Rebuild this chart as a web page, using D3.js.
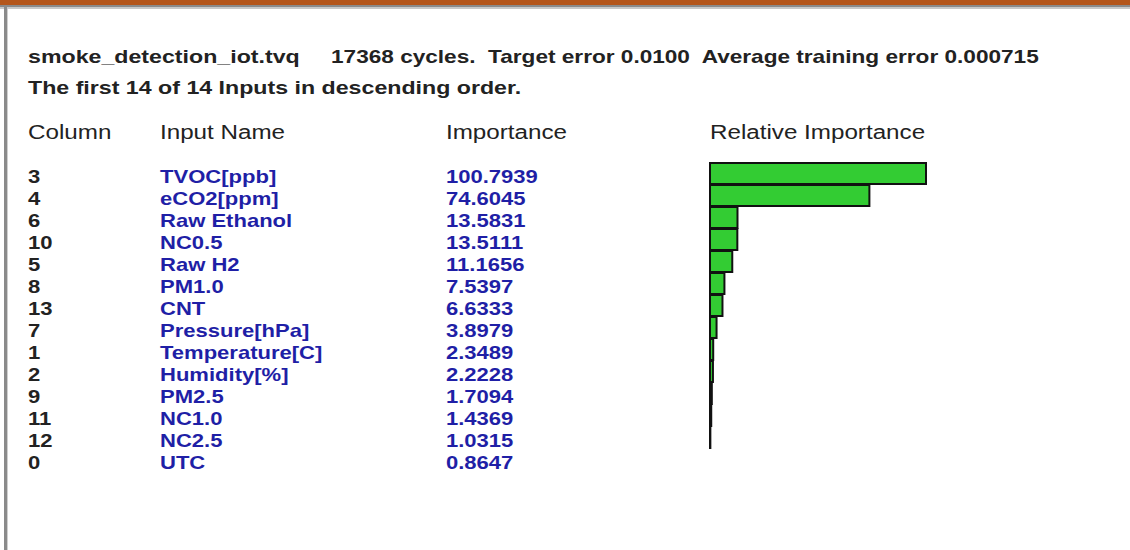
<!DOCTYPE html>
<html lang="en">
<head>
  <meta charset="UTF-8">
  <title>Input Importance</title>
  <script src="https://d3js.org/d3.v7.min.js"></script>
  <style>
    body {
      margin: 0;
      padding: 0;
      background: #fff;
      font-family: Arial, "Liberation Sans", sans-serif;
    }
    svg text {
      white-space: pre;
    }
  </style>
</head>
<body>
  <div id="chart"></div>

  <script>
    const columns = ["3", "4", "6", "10", "5", "8", "13", "7", "1", "2", "9", "11", "12", "0"];
    const inputNames = ["TVOC[ppb]", "eCO2[ppm]", "Raw Ethanol", "NC0.5", "Raw H2", "PM1.0", "CNT",
      "Pressure[hPa]", "Temperature[C]", "Humidity[%]", "PM2.5", "NC1.0", "NC2.5", "UTC"];
    const importance = [100.7939, 74.6045, 13.5831, 13.5111, 11.1656, 7.5397, 6.6333,
      3.8979, 2.3489, 2.2228, 1.7094, 1.4369, 1.0315, 0.8647];
    const headers = ["Column", "Input Name", "Importance", "Relative Importance"];
    const fileName = "smoke_detection_iot.tvq";
    const runInfo = "17368 cycles.  Target error 0.0100  Average training error 0.000715";
    const subtitle = "The first 14 of 14 Inputs in descending order.";

    const width = 1130;
    const height = 550;
    const textColor = "#222";
    const blue = "#1f1fa6";

    const svg = d3.select("#chart")
      .append("svg")
      .attr("width", width)
      .attr("height", height);

    // window frame: orange strip on top, grey edges
    svg.append("rect").attr("x", 0).attr("y", 0).attr("width", width).attr("height", 5).attr("fill", "#b4561b");
    svg.append("rect").attr("x", 0).attr("y", 5).attr("width", width).attr("height", 2).attr("fill", "#8a8a8a");
    svg.append("rect").attr("x", 0).attr("y", 7).attr("width", width).attr("height", 2).attr("fill", "#c8c8c8");
    svg.append("rect").attr("x", 4).attr("y", 7).attr("width", 3).attr("height", height).attr("fill", "#8a8a8a");
    svg.append("rect").attr("x", 7).attr("y", 9).attr("width", 1).attr("height", height).attr("fill", "#cfcfcf");

    // the old screenshot's text is stretched sideways, so draw narrow-height text and widen it
    function wideText(parent, x, y, size, sx, txt) {
      return parent.append("text")
        .attr("transform", `translate(${x}, ${y}) scale(${sx}, 1)`)
        .attr("font-size", size)
        .text(txt);
    }

    // heading lines
    wideText(svg, 28, 63, 19, 1.22, fileName).attr("font-weight", "bold").attr("fill", textColor);
    wideText(svg, 331, 63, 19, 1.19, runInfo).attr("font-weight", "bold").attr("fill", textColor);
    wideText(svg, 28, 94, 19, 1.22, subtitle).attr("font-weight", "bold").attr("fill", textColor);

    const colX = [28, 160, 446, 710];

    headers.forEach((h, i) => {
      wideText(svg, colX[i], 139, 20, 1.21, h).attr("fill", textColor);
    });

    const rows = d3.range(importance.length);

    const yText = d3.scaleBand()
      .domain(rows)
      .range([165, 165 + 22 * rows.length]);

    rows.forEach(i => {
      const base = yText(i) + 18;
      wideText(svg, colX[0], base, 19, 1.16, columns[i]).attr("font-weight", "bold").attr("fill", textColor);
      wideText(svg, colX[1], base, 19, 1.16, inputNames[i]).attr("font-weight", "bold").attr("fill", blue);
      wideText(svg, colX[2], base, 19, 1.16, importance[i].toFixed(4)).attr("font-weight", "bold").attr("fill", blue);
    });

    // relative importance bars (measured from the smallest input)
    const x = d3.scaleLinear()
      .domain(d3.extent(importance))
      .range([710, 926]);

    const yBar = d3.scaleBand()
      .domain(rows)
      .range([163, 163 + 22 * rows.length])
      .padding(0);

    svg.selectAll(".bar")
      .data(rows)
      .enter()
      .append("rect")
      .attr("class", "bar")
      .attr("x", x.range()[0])
      .attr("y", i => yBar(i))
      .attr("width", i => x(importance[i]) - x.range()[0])
      .attr("height", yBar.bandwidth() - 1)
      .attr("fill", "#33cc33")
      .attr("stroke", "#111")
      .attr("stroke-width", 2);
  </script>
</body>
</html>
